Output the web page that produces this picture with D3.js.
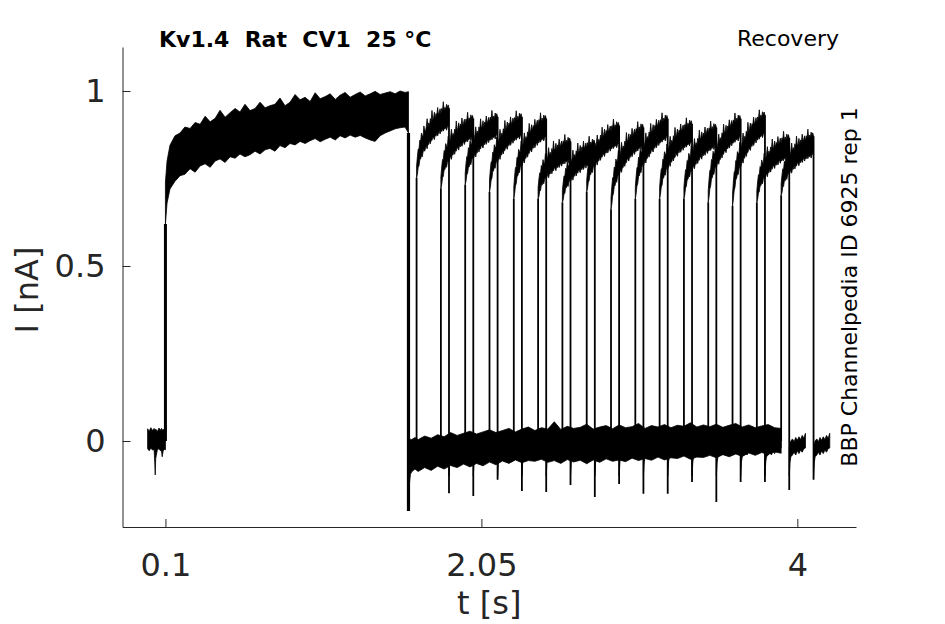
<!DOCTYPE html>
<html>
<head>
<meta charset="utf-8">
<script src="https://d3js.org/d3.v7.min.js"></script>
<style>
  body { margin: 0; background: #fff; }
  text { font-family: "DejaVu Sans", sans-serif; }
</style>
</head>
<body>
<div id="chart"></div>
<script>
//ticks
const xTicks = [0.1, 2.05, 4];
const yTicks = [0, 0.5, 1];

//holding baseline before the conditioning pulse (envelope of all sweeps)
const preT = [-0.010, 0.000, 0.010, 0.020, 0.030, 0.034, 0.037, 0.040, 0.050, 0.060, 0.070, 0.076, 0.080, 0.086, 0.094, 0.100];
const preHi = [0.035, 0.028, 0.038, 0.030, 0.036, 0.032, 0.030, 0.034, 0.027, 0.037, 0.031, 0.036, 0.030, 0.034, 0.029, 0.030];
const preLo = [-0.022, -0.028, -0.020, -0.026, -0.024, -0.060, -0.097, -0.050, -0.025, -0.022, -0.028, -0.030, -0.045, -0.028, -0.024, -0.025];

//conditioning pulse 0.1 -> 1.6 s (envelope of all sweeps)
const p1T = [0.100, 0.110, 0.128, 0.159, 0.190, 0.220, 0.252, 0.283, 0.314, 0.345, 0.376, 0.407, 0.437, 0.468, 0.499, 0.530, 0.560,
  0.591, 0.622, 0.653, 0.684, 0.715, 0.745, 0.776, 0.807, 0.838, 0.869, 0.900, 0.931, 0.962, 0.993, 1.024, 1.055, 1.086,
  1.117, 1.148, 1.178, 1.209, 1.240, 1.271, 1.302, 1.333, 1.364, 1.394, 1.425, 1.456, 1.487, 1.518, 1.548, 1.579, 1.600];
const p1Hi = [0.740, 0.800, 0.845, 0.872, 0.880, 0.897, 0.893, 0.910, 0.905, 0.928, 0.912, 0.922, 0.945, 0.925, 0.938, 0.950, 0.940,
  0.962, 0.944, 0.950, 0.968, 0.952, 0.958, 0.962, 0.980, 0.958, 0.968, 0.990, 0.975, 0.982, 0.970, 0.995, 0.978, 0.984,
  0.992, 0.976, 0.988, 0.996, 0.982, 0.990, 0.997, 0.986, 0.992, 0.999, 0.990, 0.994, 0.998, 0.992, 1.000, 0.996, 0.998];
const p1Lo = [0.620, 0.680, 0.720, 0.742, 0.758, 0.762, 0.778, 0.768, 0.786, 0.792, 0.782, 0.800, 0.806, 0.796, 0.812, 0.808, 0.820,
  0.812, 0.818, 0.828, 0.820, 0.832, 0.836, 0.828, 0.844, 0.838, 0.850, 0.846, 0.856, 0.850, 0.858, 0.864, 0.855, 0.862,
  0.868, 0.860, 0.872, 0.866, 0.874, 0.868, 0.873, 0.866, 0.860, 0.856, 0.872, 0.880, 0.886, 0.892, 0.895, 0.897, 0.880];

//baseline between conditioning and test pulse (envelope of all sweeps)
const gapT = [1.600, 1.604, 1.612, 1.620, 1.640, 1.660, 1.700, 1.740, 1.780, 1.820, 1.860, 1.900, 1.940, 1.980, 2.020, 2.060,
  2.100, 2.140, 2.180, 2.220, 2.260, 2.300, 2.340, 2.380, 2.420, 2.460, 2.500, 2.540, 2.580, 2.620, 2.660, 2.700, 2.740,
  2.780, 2.820, 2.860, 2.900, 2.940, 2.980, 3.020, 3.060, 3.100, 3.140, 3.180, 3.220, 3.260, 3.300, 3.340, 3.380, 3.420,
  3.460, 3.500, 3.540, 3.580, 3.620, 3.660, 3.700, 3.740, 3.780, 3.820, 3.860, 3.900];
const gapHi = [0.000, 0.002, 0.005, 0.004, 0.010, 0.004, 0.014, 0.008, 0.018, 0.012, 0.024, 0.016, 0.022, 0.028, 0.020, 0.026,
  0.032, 0.024, 0.030, 0.036, 0.026, 0.034, 0.040, 0.030, 0.038, 0.034, 0.055, 0.033, 0.042, 0.036, 0.039, 0.048, 0.034,
  0.040, 0.044, 0.035, 0.046, 0.038, 0.041, 0.050, 0.036, 0.044, 0.040, 0.047, 0.038, 0.045, 0.042, 0.052, 0.040, 0.046,
  0.041, 0.048, 0.039, 0.045, 0.050, 0.040, 0.046, 0.038, 0.043, 0.047, 0.038, 0.036];
const gapLo = [-0.200, -0.130, -0.095, -0.088, -0.080, -0.087, -0.076, -0.084, -0.072, -0.080, -0.070, -0.076, -0.066, -0.074, -0.064, -0.071,
  -0.060, -0.068, -0.057, -0.064, -0.054, -0.062, -0.056, -0.058, -0.052, -0.061, -0.056, -0.064, -0.053, -0.060, -0.055, -0.065, -0.054,
  -0.061, -0.051, -0.058, -0.054, -0.059, -0.049, -0.056, -0.050, -0.055, -0.046, -0.054, -0.048, -0.050, -0.043, -0.052, -0.046, -0.047,
  -0.041, -0.048, -0.039, -0.045, -0.037, -0.044, -0.034, -0.041, -0.033, -0.038, -0.031, -0.035];

//test pulse per sweep: start time, level just after the step, level at the end, tail minimum
const testOnset = [1.65, 1.80, 1.95, 2.10, 2.25, 2.40, 2.55, 2.70, 2.85, 3.00, 3.15, 3.30, 3.45, 3.60, 3.75, 3.90];
const testStart = [0.77, 0.74, 0.75, 0.73, 0.71, 0.71, 0.70, 0.73, 0.68, 0.71, 0.71, 0.71, 0.70, 0.69, 0.70, 0.72];
const testEnd = [0.925, 0.895, 0.90, 0.90, 0.895, 0.83, 0.825, 0.875, 0.87, 0.895, 0.88, 0.87, 0.895, 0.905, 0.84, 0.845];
const tailMin = [-0.149, -0.157, -0.111, -0.143, -0.146, -0.126, -0.160, -0.123, -0.151, -0.151, -0.117, -0.174, -0.117, -0.117, -0.140, -0.111];

//shape of a test pulse (0.2 s): fraction of the rise, noise above / below
const testDt = [0, 0.005, 0.01, 0.015, 0.02, 0.025, 0.03, 0.035, 0.04, 0.045, 0.05, 0.055, 0.06, 0.065, 0.07, 0.075, 0.08, 0.085, 0.09, 0.095,
  0.1, 0.105, 0.11, 0.115, 0.12, 0.125, 0.13, 0.135, 0.14, 0.145, 0.15, 0.155, 0.16, 0.165, 0.17, 0.175, 0.18, 0.185, 0.19, 0.195, 0.2];
const testRise = [0, 0.12, 0.22, 0.30, 0.36, 0.41, 0.45, 0.49, 0.52, 0.55, 0.58, 0.60, 0.63, 0.65, 0.67, 0.69, 0.71, 0.73, 0.75, 0.77,
  0.79, 0.80, 0.82, 0.83, 0.85, 0.86, 0.87, 0.88, 0.90, 0.91, 0.92, 0.93, 0.94, 0.95, 0.96, 0.97, 0.975, 0.98, 0.99, 0.995, 1.0];
const testNoiseHi = [0.015, 0.024, 0.030, 0.018, 0.034, 0.022, 0.040, 0.026, 0.020, 0.045, 0.028, 0.022, 0.030, 0.050, 0.024, 0.032, 0.021,
  0.038, 0.026, 0.055, 0.024, 0.030, 0.042, 0.022, 0.034, 0.027, 0.048, 0.025, 0.030, 0.038, 0.022, 0.036, 0.028, 0.052, 0.024,
  0.033, 0.025, 0.040, 0.029, 0.036, 0.026];
const testNoiseLo = [0.018, 0.026, 0.022, 0.030, 0.021, 0.028, 0.024, 0.034, 0.025, 0.021, 0.032, 0.027, 0.023, 0.036, 0.025, 0.030, 0.021,
  0.034, 0.026, 0.031, 0.023, 0.028, 0.036, 0.024, 0.031, 0.023, 0.033, 0.027, 0.022, 0.034, 0.026, 0.030, 0.023, 0.032, 0.026,
  0.029, 0.024, 0.034, 0.027, 0.023, 0.026];

//baseline after the test pulse (0.1 s)
const postDt = [0, 0.005, 0.01, 0.02, 0.03, 0.04, 0.05, 0.06, 0.07, 0.08, 0.09, 0.1];
const postHi = [-0.020, -0.005, 0.000, 0.006, -0.002, 0.010, 0.002, 0.012, 0.004, 0.016, 0.008, 0.022];
const postLo = [-0.100, -0.060, -0.045, -0.040, -0.032, -0.040, -0.028, -0.036, -0.026, -0.032, -0.022, -0.020];

const width = 945;
const height = 624;
const ink = "#262626";

const svg = d3
  .select("#chart")
  .append("svg")
  .attr("width", width)
  .attr("height", height);

const x = d3.scaleLinear().domain([-0.165, 4.362]).range([122.5, 856]);
const y = d3.scaleLinear().domain([-0.2457, 1.1257]).range([527, 47]);

const band = d3
  .area()
  .x((d) => x(d.t))
  .y0((d) => y(d.lo))
  .y1((d) => y(d.hi));

//helper to turn three arrays into rows
const rows = (ts, his, los) => ts.map((t, i) => ({ t: t, hi: his[i], lo: los[i] }));

const drawBand = (data) => {
  svg
    .append("path")
    .attr("d", band(data))
    .attr("fill", "black")
    .attr("stroke", "black")
    .attr("stroke-width", 0.8)
    .attr("stroke-linejoin", "round");
};

const drawStep = (t, a, b, w) => {
  svg
    .append("line")
    .attr("x1", x(t))
    .attr("x2", x(t))
    .attr("y1", y(a))
    .attr("y2", y(b))
    .attr("stroke", "black")
    .attr("stroke-width", w);
};

//conditioning part, common to all sweeps
drawBand(rows(preT, preHi, preLo));
drawStep(p1T[0], 0, p1Lo[0], 3);
drawBand(rows(p1T, p1Hi, p1Lo));
drawStep(p1T[p1T.length - 1], p1Lo[p1Lo.length - 1], gapLo[0], 3.2);
drawBand(rows(gapT, gapHi, gapLo));

//test pulses, one per sweep
testOnset.forEach((t0, k) => {
  const pulse = testDt.map((dt, i) => {
    const mid = testStart[k] + (testEnd[k] - testStart[k]) * testRise[i];
    return { t: t0 + dt, hi: mid + testNoiseHi[i], lo: mid - testNoiseLo[i] };
  });
  const tEnd = t0 + testDt[testDt.length - 1];
  drawStep(t0, 0, pulse[0].lo, 1.8);
  drawBand(pulse);
  drawStep(tEnd, pulse[pulse.length - 1].hi, tailMin[k], 1.8);
  drawBand(postDt.map((dt, i) => ({ t: tEnd + dt, hi: postHi[i], lo: postLo[i] })));
});

//axes
const styleAxis = (g) => {
  g.selectAll(".domain").attr("stroke", ink).attr("stroke-width", 1);
  g.selectAll(".tick line").attr("stroke", ink).attr("stroke-width", 1);
  g.selectAll(".tick text")
    .attr("fill", ink)
    .style("font-family", "DejaVu Sans")
    .style("font-size", "32px");
};

svg
  .append("g")
  .attr("transform", `translate(0,${y.range()[0]})`)
  .call(d3.axisBottom(x).tickValues(xTicks).tickFormat((d) => d).tickSizeInner(-8).tickSizeOuter(0).tickPadding(26))
  .call(styleAxis);

svg
  .append("g")
  .attr("transform", `translate(${x.range()[0]},0)`)
  .call(d3.axisLeft(y).tickValues(yTicks).tickFormat((d) => d).tickSizeInner(-8).tickSizeOuter(0).tickPadding(17))
  .call(styleAxis);

//axis titles
svg
  .append("text")
  .attr("x", (x.range()[0] + x.range()[1]) / 2)
  .attr("y", 614)
  .attr("text-anchor", "middle")
  .attr("fill", ink)
  .style("font-size", "32px")
  .text("t [s]");

svg
  .append("text")
  .attr("transform", "translate(38,290) rotate(-90)")
  .attr("text-anchor", "middle")
  .attr("fill", ink)
  .style("font-size", "32px")
  .text("I [nA]");

//header texts
svg
  .append("text")
  .attr("x", 159)
  .attr("y", 47)
  .attr("fill", "black")
  .attr("font-weight", "bold")
  .style("font-size", "22px")
  .style("white-space", "pre")
  .text("Kv1.4  Rat  CV1  25 °C");

svg
  .append("text")
  .attr("x", 839)
  .attr("y", 46)
  .attr("text-anchor", "end")
  .attr("fill", "black")
  .style("font-size", "22px")
  .text("Recovery");

svg
  .append("text")
  .attr("transform", "translate(857,287) rotate(-90)")
  .attr("text-anchor", "middle")
  .attr("fill", "black")
  .style("font-size", "22px")
  .text("BBP Channelpedia ID 6925 rep 1");
</script>
</body>
</html>
